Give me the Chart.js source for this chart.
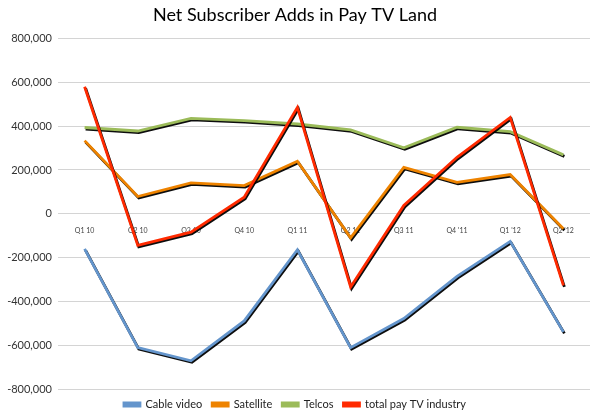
<!DOCTYPE html>
<html>
<head>
<meta charset="utf-8">
<title>Net Subscriber Adds in Pay TV Land</title>
<script src="https://cdn.jsdelivr.net/npm/chart.js@4.4.1/dist/chart.umd.min.js"></script>
<style>
  html, body { margin: 0; padding: 0; background: #fff; }
  #wrap { width: 592px; height: 420px; }
</style>
</head>
<body>
<div id="wrap"><canvas id="payTvChart" width="592" height="420"></canvas></div>
<script>
// Quarters along the x axis
const quarters = ['Q1 10', 'Q2 10', 'Q3 10', 'Q4 10', 'Q1 11', 'Q2 11', 'Q3 11', "Q4 '11", "Q1 '12", "Q2 '12"];

// Net subscriber adds per quarter
const cableVideo = [-160000, -611000, -671000, -489000, -164000, -611000, -478000, -286000, -126000, -539000];
const satellite  = [334000, 79000, 141000, 129000, 240000, -110000, 212000, 144000, 179000, -68000];
const telcos     = [394000, 378000, 436000, 425000, 410000, 383000, 301000, 395000, 375000, 269000];
const totalPayTv = [580000, -144000, -84000, 76000, 486000, -334000, 38000, 258000, 440000, -327000];

// y axis range
const yMin = -800000;
const yMax = 800000;
const yStep = 200000;

const fontFamily = 'Lato, "Open Sans", "Liberation Sans", sans-serif';

// Black drop shadow under each line, like the Excel original
const lineShadow = {
  id: 'lineShadow',
  beforeDatasetDraw(chart) {
    const c = chart.ctx;
    c.save();
    c.shadowColor = 'rgba(0,0,0,0.95)';
    c.shadowOffsetX = 1;
    c.shadowOffsetY = 1.5;
    c.shadowBlur = 0;
  },
  afterDatasetDraw(chart) {
    chart.ctx.restore();
  }
};

function series(label, data, color, order) {
  return {
    label: label,
    data: data,
    borderColor: color,
    backgroundColor: color,
    borderWidth: 2.8,
    pointRadius: 0,
    tension: 0,
    order: order
  };
}

const ctx = document.getElementById('payTvChart').getContext('2d');
new Chart(ctx, {
  type: 'line',
  data: {
    labels: quarters,
    datasets: [
      series('Cable video', cableVideo, '#6495cc', 3),
      series('Satellite', satellite, '#ee8300', 2),
      series('Telcos', telcos, '#9bbb59', 1),
      series('total pay TV industry', totalPayTv, '#ff2a00', 0)
    ]
  },
  options: {
    responsive: false,
    animation: false,
    layout: { padding: { left: 0, right: 2, top: 0, bottom: 0 } },
    scales: {
      x: {
        type: 'category',
        position: { y: 0 },
        offset: true,
        grid: { display: false },
        border: { display: false },
        ticks: {
          color: '#444',
          font: { family: fontFamily, size: 7 },
          padding: 5,
          maxRotation: 0,
          autoSkip: false
        }
      },
      y: {
        min: yMin,
        max: yMax,
        afterFit(scale) { scale.width = 58; },
        grid: { color: '#d4d4d4', lineWidth: 1, drawTicks: false },
        border: { display: false },
        ticks: {
          stepSize: yStep,
          color: '#333',
          padding: 6,
          font: { family: fontFamily, size: 11 },
          callback: v => v.toLocaleString('en-US')
        }
      }
    },
    plugins: {
      title: {
        display: true,
        text: 'Net Subscriber Adds in Pay TV Land',
        color: '#000',
        font: { family: fontFamily, size: 18, weight: 'normal' },
        padding: { top: 4, bottom: 13 }
      },
      legend: {
        position: 'bottom',
        labels: {
          boxWidth: 16,
          boxHeight: 3,
          padding: 10,
          color: '#222',
          font: { family: fontFamily, size: 11 },
          sort: (a, b) => a.datasetIndex - b.datasetIndex
        }
      },
      tooltip: { enabled: false }
    }
  },
  plugins: [lineShadow]
});
</script>
</body>
</html>
